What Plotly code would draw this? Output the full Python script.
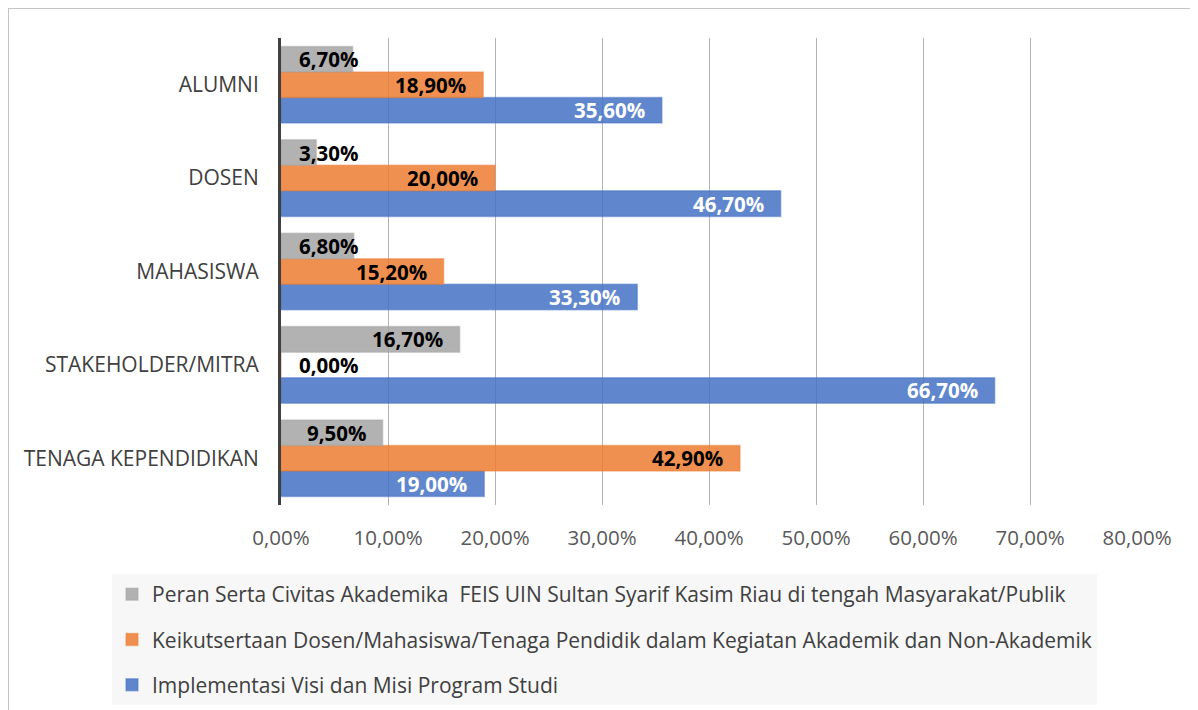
import plotly.graph_objects as go

categories = ["TENAGA KEPENDIDIKAN", "STAKEHOLDER/MITRA", "MAHASISWA", "DOSEN", "ALUMNI"]
implementasi = [19.00, 66.70, 33.30, 46.70, 35.60]
keikutsertaan = [42.90, 0.00, 15.20, 20.00, 18.90]
peran_serta = [9.50, 16.70, 6.80, 3.30, 6.70]
series_names = [
    "Implementasi Visi dan Misi Program Studi",
    "Keikutsertaan Dosen/Mahasiswa/Tenaga Pendidik dalam Kegiatan Akademik dan Non-Akademik",
    "Peran Serta Civitas Akademika  FEIS UIN Sultan Syarif Kasim Riau di tengah Masyarakat/Publik",
]
x_ticks = [0, 10, 20, 30, 40, 50, 60, 70, 80]

FONT = "Open Sans"
series = [
    (series_names[0], implementasi, (68, 114, 196), "white"),
    (series_names[1], keikutsertaan, (237, 125, 49), "black"),
    (series_names[2], peran_serta, (165, 165, 165), "black"),
]

fig = go.Figure()
for i, (name, vals, rgb, tcol) in enumerate(series):
    r, g, b = rgb
    fig.add_trace(go.Bar(
        y=categories, x=[v / 100 for v in vals], name=name, orientation="h",
        marker=dict(color=f"rgba({r},{g},{b},0.85)",
                    line=dict(color=f"rgba({r},{g},{b},0.45)", width=1.5)),
        legendgroup=f"g{i}", legendrank=3 - i, hoverinfo="skip",
    ))

# data labels (Excel "inside end"), computed from the values
annotations = []
n = len(series)
for i, (name, vals, rgb, tcol) in enumerate(series):
    for j, v in enumerate(vals):
        offset = (i - (n - 1) / 2) * (0.82 / n)
        label = f"{v:.2f}%".replace(".", ",")
        if v >= 8.5:
            ax, anchor, shift = v / 100, "right", -15
        else:
            ax, anchor, shift = 0, "left", 16
        annotations.append(dict(
            x=ax, y=j + offset, xref="x", yref="y", text=f"<b>{label}</b>",
            showarrow=False, xanchor=anchor, yanchor="middle", xshift=shift,
            font=dict(family=FONT, size=20.5, color=tcol),
        ))

# page body has an 8px margin; figure coordinates are page minus 8
W, H = 1190, 712
L, T = 273, 30
R = W - 1129
B = H - 497
pw, ph = W - L - R, H - T - B

fig.update_layout(
    width=W, height=H,
    margin=dict(l=L, r=R, t=T, b=B),
    paper_bgcolor="white", plot_bgcolor="white",
    barmode="group", bargap=0.18, bargroupgap=0,
    separators=",.",
    font=dict(family=FONT, size=21, color="#404040"),
    annotations=annotations,
    showlegend=True,
    legend=dict(
        orientation="v", x=(104 - L) / pw, xanchor="left",
        y=(497 - 566) / ph, yanchor="top",
        bgcolor="#F7F7F7", font=dict(family=FONT, size=21, color="#404040"),
        traceorder="grouped", tracegroupgap=15, itemwidth=30,
    ),
    shapes=[dict(
        type="rect", xref="paper", yref="paper",
        x0=(0 - L) / pw, x1=(1200 - L) / pw,
        y0=(497 - 730) / ph, y1=1 + (T - 0) / ph,
        line=dict(color="#C4C4C4", width=2), fillcolor="rgba(0,0,0,0)", layer="below",
    )],
)
fig.update_xaxes(
    range=[0, 0.8], tickvals=[t / 100 for t in x_ticks], tickformat=".2%",
    showgrid=True, gridcolor="#B4B4B4", gridwidth=1, zeroline=False,
    showline=False, ticks="", ticklabelstandoff=18,
    tickfont=dict(family=FONT, size=20.5, color="#595959"),
)
fig.update_yaxes(
    categoryorder="array", categoryarray=categories, range=[-0.5, 4.5],
    showline=True, linecolor="#404040", linewidth=3, showgrid=False, zeroline=False,
    ticks="", ticklabelstandoff=15,
    tickfont=dict(family=FONT, size=21, color="#404040"),
)

fig.write_html("out.html")
